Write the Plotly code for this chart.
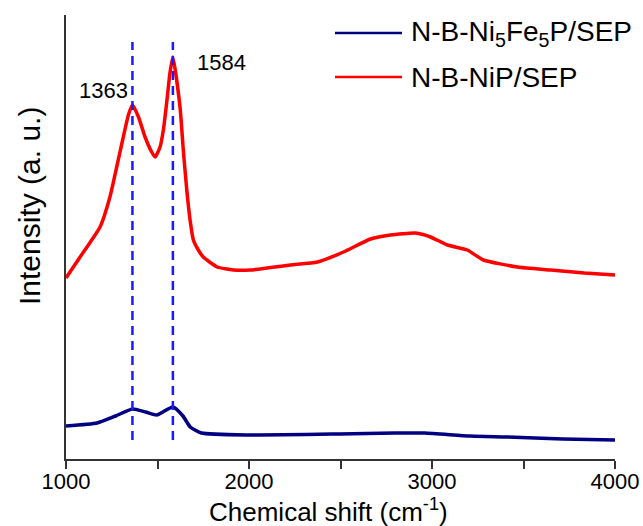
import plotly.graph_objects as go

# ---- data ----
red_name = "N-B-NiP/SEP"
blue_name = "N-B-Ni<sub>5</sub>Fe<sub>5</sub>P/SEP"

red_x = [1000, 1077, 1186, 1240, 1277, 1313, 1341, 1363, 1396, 1432, 1468, 1487,
         1514, 1532, 1550, 1568, 1584, 1623, 1641, 1660, 1678, 1696, 1723, 1750,
         1826, 1915, 2007, 2226, 2374, 2516, 2664, 2773, 2910, 2992, 3084, 3193,
         3281, 3467, 3649, 3832, 4000]
red_y = [181, 202, 232, 262, 292, 322, 344, 354, 342, 322, 307, 302,
         312, 329, 356, 386, 402, 352, 309, 269, 239, 219, 209, 202,
         192, 189, 189, 194, 197, 207, 220, 224, 226, 222, 214, 209,
         199, 192, 189, 186, 184]

blue_x = [1000, 1170, 1271, 1363, 1435, 1496, 1584, 1639, 1679, 1740, 1986,
          2494, 2798, 2960, 3206, 3408, 3715, 4000]
blue_y = [33, 36, 43, 50, 47, 44, 52, 43, 32, 26, 24,
          25, 26, 26, 23, 22, 20, 19]

peaks = [1363, 1584]
x_ticks = [1000, 2000, 3000, 4000]

FONT = "Arial, Liberation Sans, sans-serif"
RED = "#ff0000"
NAVY = "#000080"
DASH = "#1a1aff"

fig = go.Figure()
fig.add_trace(go.Scatter(x=blue_x, y=blue_y, mode="lines", name=blue_name,
                         line=dict(color=NAVY, width=3.5, shape="spline", smoothing=0.5),
                         showlegend=False))
fig.add_trace(go.Scatter(x=red_x, y=red_y, mode="lines", name=red_name,
                         line=dict(color=RED, width=3.5, shape="spline", smoothing=0.5),
                         showlegend=False))

# dashed peak markers
for p in peaks:
    fig.add_shape(type="line", xref="x", yref="y", x0=p, x1=p, y0=19, y1=417,
                  line=dict(color=DASH, width=2.5, dash="9px,6px"), layer="above")

# peak labels
fig.add_annotation(x=peaks[0], y=369, xref="x", yref="y", text=str(peaks[0]),
                   showarrow=False, xanchor="right", xshift=-2,
                   font=dict(family=FONT, size=22, color="black"))
fig.add_annotation(x=peaks[1], y=397, xref="x", yref="y", text=str(peaks[1]),
                   showarrow=False, xanchor="left", xshift=22,
                   font=dict(family=FONT, size=22, color="black"))

# manual legend
W, H = 643, 526
L, R, T, B = 66, 28, 15, 67
pw, ph = W - L - R, H - T - B

def px(xp):
    return (xp - L) / pw

def py(yp):
    return (H - B - yp) / ph

legend_items = [(blue_name, NAVY, 33), (red_name, RED, 77)]
for name, col, ypix in legend_items:
    fig.add_shape(type="line", xref="paper", yref="paper",
                  x0=px(335), x1=px(402), y0=py(ypix), y1=py(ypix),
                  line=dict(color=col, width=2.5))
    fig.add_annotation(x=px(409), y=py(ypix), xref="paper", yref="paper",
                       text=name, showarrow=False, xanchor="left", yanchor="middle",
                       font=dict(family=FONT, size=28, color="black"))

# axis titles
fig.add_annotation(x=px(29), y=py(206), xref="paper", yref="paper",
                   text="Intensity (a. u.)", textangle=-90, showarrow=False,
                   xanchor="center", yanchor="middle",
                   font=dict(family=FONT, size=30, color="black"))
fig.add_annotation(x=px(328), y=py(510), xref="paper", yref="paper",
                   text="Chemical shift (cm<sup>-1</sup>)", showarrow=False,
                   xanchor="center", yanchor="middle",
                   font=dict(family=FONT, size=26, color="black"))

fig.update_layout(
    width=W, height=H,
    margin=dict(l=L, r=R, t=T, b=B, autoexpand=False),
    paper_bgcolor="white", plot_bgcolor="white",
    font=dict(family=FONT, color="black"),
    xaxis=dict(range=[1000, 4000], tickvals=x_ticks, ticktext=[str(t) for t in x_ticks],
               ticks="outside", ticklen=8, tickwidth=1.5, tickcolor="#333",
               minor=dict(dtick=500, ticks="outside", ticklen=8, tickwidth=1.5, tickcolor="#333"),
               showline=True, linecolor="#333", linewidth=1.5, showgrid=False, zeroline=False,
               automargin=False, ticklabelstandoff=-6,
               tickfont=dict(family=FONT, size=22, color="black")),
    yaxis=dict(range=[0, 444], showline=True, linecolor="#333", linewidth=1.5,
               showticklabels=False, ticks="", showgrid=False, zeroline=False,
               automargin=False),
)

fig.write_html("out.html", config={"displayModeBar": False},
               post_script="document.body.style.margin='0';document.body.style.overflow='hidden';")
